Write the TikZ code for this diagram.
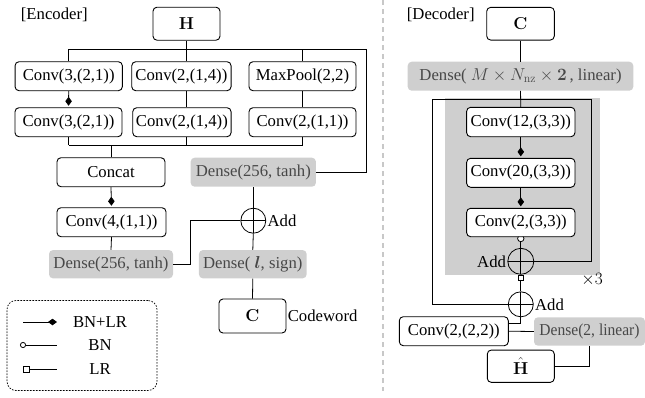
\documentclass[tikz,border=0pt]{standalone}
\usepackage{amsmath,bm}
\usepackage[no-math]{fontspec}
\setmainfont{Liberation Serif}
\usetikzlibrary{arrows.meta,calc}
\definecolor{boxgray}{HTML}{CFCFCF}
\definecolor{dgray}{HTML}{484848}
\definecolor{sepgray}{HTML}{C8C8C8}
\tikzset{
  box/.style={draw=black, line width=0.9pt, rounded corners=4pt, fill=white, inner sep=0pt, minimum height=29pt},
  gbox/.style={fill=boxgray, rounded corners=4pt, inner sep=0pt, minimum height=29pt, text=dgray},
  ln/.style={draw=black, line width=0.8pt},
  dtip/.tip={Diamond[length=9pt,width=6.5pt]},
  bnlr/.style={ln, -dtip, shorten >=1.5pt},
  addc/.style={circle, draw=black, line width=0.8pt, minimum size=25pt, inner sep=0pt,
    path picture={\draw[line width=0.8pt] (path picture bounding box.north) -- (path picture bounding box.south)
      (path picture bounding box.west) -- (path picture bounding box.east);}},
  lbl/.style={inner sep=1.2pt},
}
\begin{document}
\begin{tikzpicture}[x=1pt,y=-1pt,font=\fontsize{16.7}{20}\selectfont]
\useasboundingbox (0,0) rectangle (645,397);

% separator
\draw[sepgray, line width=2pt, dash pattern=on 5pt off 4pt] (383,0) -- (383,391);

% ---------------- Encoder ----------------
\node[anchor=base west, inner sep=0pt] (enc) at (20.7,19) {[Encoder]};
\node[box, minimum width=67pt, minimum height=33pt] (H) at (186.5,23.7) {$\mathbf{H}$};
\node[box, minimum width=107.3pt] (r1a) at (68.7,76.2) {Conv(3,(2,1))};
\node[box, minimum width=99.3pt] (r1b) at (181.4,76.2) {Conv(2,(1,4))};
\node[box, minimum width=107pt] (r1c) at (302.5,76.2) {MaxPool(2,2)};
\node[box, minimum width=107pt] (r2a) at (68.5,122.2) {Conv(3,(2,1))};
\node[box, minimum width=98.3pt] (r2b) at (181.9,122.2) {Conv(2,(1,4))};
\node[box, minimum width=107pt] (r2c) at (302.5,122.2) {Conv(2,(1,1))};
\node[box, minimum width=108pt] (concat) at (111,172.2) {Concat};
\node[gbox, minimum width=125.3pt] (d1) at (253.3,172.2) {Dense(256, tanh)};
\node[box, minimum width=109pt] (conv4) at (111.5,222.2) {Conv(4,(1,1))};
\node[gbox, minimum width=124pt, minimum height=28.3pt] (d2) at (111,264.2) {Dense(256, tanh)};
\node[addc] (add1) at (253.3,220.7) {};
\node[lbl, anchor=west] (add1l) at (add1.east) {Add};
\node[gbox, minimum width=107.7pt, minimum height=28.3pt] (dl) at (252.8,264.2) {Dense( $\bm{l}$, sign)};
\node[box, minimum width=67pt, minimum height=34pt] (C) at (252.5,316) {$\mathbf{C}$};
\node[lbl, anchor=west] (cw) at (C.east) {Codeword};

\coordinate (jHL) at (68.7,49);
\coordinate (jHR) at (366.7,49);
\coordinate (jBL) at (68.5,145);
\coordinate (jBR) at (302.5,145);
\draw[ln] (H.south) -- (H.south |- jHL);
\draw[ln] (jHL) -- (jHR) |- (d1.east);
\draw[ln] (jHL) -- (r1a.north);
\draw[ln] (H.south |- jHL) -- (H.south |- r1b.north);
\draw[ln] (r1c.north |- jHL) -- (r1c.north);
\draw[bnlr] (r1a.south) -- (r2a.north);
\draw[ln] (H.south |- r1b.south) -- (H.south |- r2b.north);
\draw[ln] (r1c.south) -- (r2c.north);
\draw[ln] (jBL) -- (jBR);
\draw[ln] (r2a.south) -- (jBL);
\draw[ln] (H.south |- r2b.south) -- (H.south |- jBL);
\draw[ln] (r2c.south) -- (jBR);
\draw[ln] (concat.north |- jBL) -- (concat.north);
\draw[bnlr] (concat.south) -- (conv4.north);
\draw[ln] (conv4.south) -- (d2.north);
\draw[ln] (d2.east) -- ++(17,0) |- (add1.west);
\draw[ln] (d1.south) -- (add1.north);
\draw[ln] (add1.south) -- (dl.north);
\draw[ln] (dl.south) -- (C.north);

% legend
\node[draw=black, line width=0.7pt, dash pattern=on 1.6pt off 1.4pt, rounded corners=9pt,
      minimum width=150pt, minimum height=90pt, inner sep=0pt] (leg) at (82,345.5) {};
\coordinate (la1) at (23,322); \coordinate (lb1) at (57,322);
\coordinate (la2) at (20,345); \coordinate (lb2) at (57,345);
\coordinate (la3) at (23,369); \coordinate (lb3) at (57,369);
\draw[ln, -dtip] (la1) -- (lb1);
\draw[ln, {Circle[length=6pt, fill=white]}-] (la2) -- (lb2);
\draw[ln, {Square[length=7pt, fill=white]}-] (la3) -- (lb3);
\node (t1) at (100,322) {BN+LR};
\node (t2) at (100,345) {BN};
\node (t3) at (100,369) {LR};

% ---------------- Decoder ----------------
\node[anchor=base west, inner sep=0pt] (dec) at (406.7,19) {[Decoder]};
\node[fill=boxgray, minimum width=155pt, minimum height=176.2pt, inner sep=0pt] (blk) at (522.5,186.4) {};
\node[box, minimum width=67.6pt, minimum height=32.7pt] (Cd) at (520.5,23.7) {$\mathbf{C}$};
\node[gbox, minimum width=225.6pt] (dd) at (520.5,76.2) {Dense( $M\times N_{\mathrm{nz}}\times\mathbf{2}$\,, linear)};
\node[box, minimum width=108.3pt, minimum height=29.4pt] (c12) at (520.8,122) {Conv(12,(3,3))};
\node[box, minimum width=108.3pt] (c20) at (520.8,172.8) {Conv(20,(3,3))};
\draw[ln, fill=white] (520.8,238.5) circle (3.2pt);
\node[box, minimum width=108.3pt, minimum height=28.4pt] (c2) at (520.8,222.5) {Conv(2,(3,3))};
\node[addc, minimum size=26pt] (add2) at (520.8,261.3) {};
\node[lbl, anchor=east] (add2l) at (add2.west) {Add};
\node[addc] (add3) at (520.8,304.3) {};
\node[lbl, anchor=west] (add3l) at (add3.east) {Add};
\node (x3) at (592,280) {$\times 3$};
\node[box, minimum width=109pt] (c22) at (453.8,331.2) {Conv(2,(2,2))};
\node[gbox, minimum width=111pt, minimum height=28.4pt] (d2l) at (589.5,331.5) {\scalebox{0.93}[1]{Dense(2, linear)}};
\node[box, minimum width=67pt, minimum height=32.3pt] (Hh) at (520.8,366.2) {$\hat{\mathbf{H}}$};

\coordinate (tl) at (432.7,99.3);
\coordinate (tr) at (591.7,99.3);
\draw[ln] (Cd.south) -- (dd.north);
\draw[ln] (dd.south) -- (c12.north);
\draw[ln] (tl) -- (tr) |- (add2.east);
\draw[ln] (tl) |- (add3.west);
\draw[bnlr] (c12.south) -- (c20.north);
\draw[bnlr] (c20.south) -- (c2.north);
\draw[ln] (c2.south) ++(0,5) -- (add2.north);
\draw[ln, {Square[length=6.5pt, fill=white]}-] (add2.south) -- (add3.north);
\draw[ln] (add3.south) |- ([yshift=7.5pt]c22.east);
\draw[ln] (c22.east) -- (d2l.west);
\draw[ln] (d2l.south) |- (Hh.east);
\end{tikzpicture}
\end{document}
